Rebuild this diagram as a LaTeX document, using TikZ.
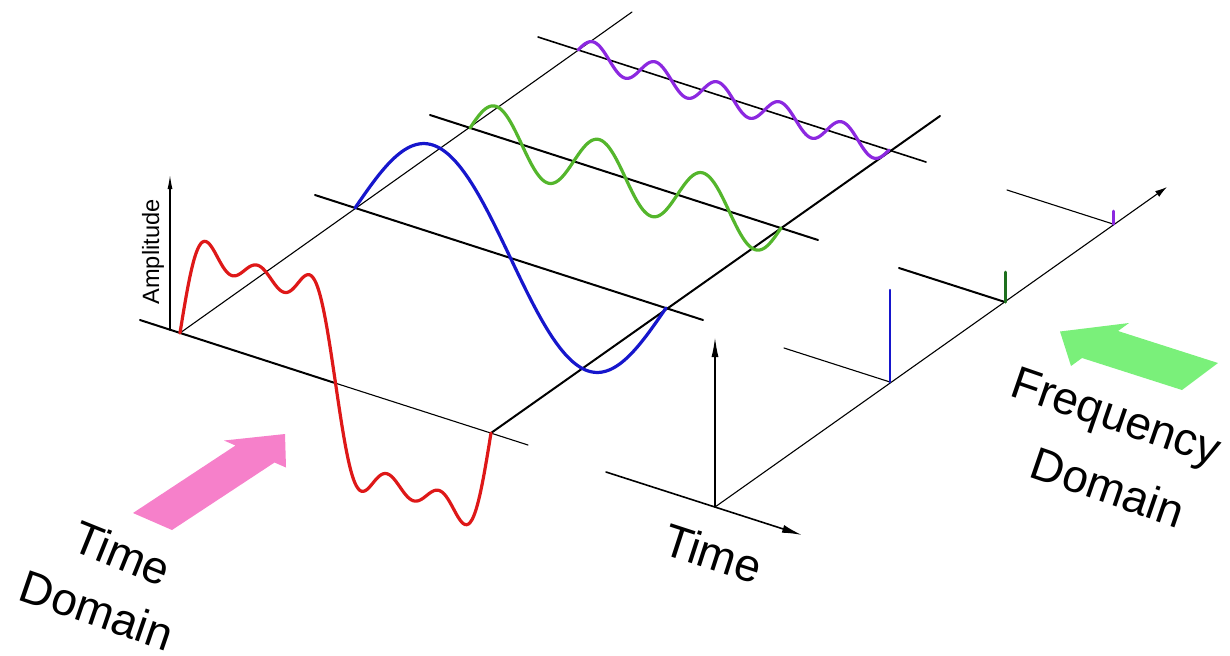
\documentclass[tikz,border=0pt]{standalone}
\usepackage{fontspec}
\setmainfont{Liberation Sans}
\usepackage{tikz}
\usetikzlibrary{arrows.meta}
\definecolor{sumred}{RGB}{222,24,24}
\definecolor{fundblue}{RGB}{22,22,204}
\definecolor{harmgreen}{RGB}{84,182,44}
\definecolor{harmpurple}{RGB}{140,40,224}
\definecolor{spikegreen}{RGB}{30,112,30}
\definecolor{arrowpink}{RGB}{246,128,202}
\definecolor{arrowgreen}{RGB}{122,240,122}

\begin{document}
\begin{tikzpicture}[x=0.5pt,y=-0.5pt,line cap=round,line join=round,
  thinline/.style={line width=0.55pt},
  tline/.style={line width=1pt},
  wave/.style={line width=1.6pt,smooth},
  lbl/.style={font=\fontsize{23}{28}\selectfont,inner sep=0pt}]
\path[use as bounding box] (0,0) rectangle (1230,655);
\coordinate (r0) at (180,333); \coordinate (r1) at (491,433);
\coordinate (b0) at (355,208); \coordinate (b1) at (666,308);
\coordinate (g0) at (470,128); \coordinate (g1) at (781,228);
\coordinate (p0) at (578,50);  \coordinate (p1) at (889,150);
\coordinate (ltop) at (632,12); \coordinate (rtop) at (940,116);
\coordinate (f0) at (715,507); \coordinate (f1) at (890,382);
\coordinate (f2) at (1005,302); \coordinate (f3) at (1113,224);
\draw[thinline] (r0) -- (ltop);
\draw[tline] (r1) -- (rtop);
\draw[tline] (140,320) -- (335,383);
\draw[thinline] (335,383) -- (528,445);
\draw[tline] (315,195) -- (703,320);
\draw[tline] (430,115) -- (818,240);
\draw[line width=0.8pt] (538,37) -- (926,162);
\draw[-{Latex[length=7pt,width=2.5pt]},thinline] (170,330) -- (170,175);
\node[lbl,font=\fontsize{11.8}{14}\selectfont,rotate=90] (amp) at (153,252) {Amplitude};
\draw[wave,sumred] plot[domain=0:360,samples=181] ({180+311*(\x/360)},{333+100*(\x/360)-107*(sin(\x)+sin(3*\x)/3+sin(5*\x)/5)});
\draw[wave,fundblue] plot[domain=0:360,samples=121] ({355+311*(\x/360)},{208+100*(\x/360)-88*sin(\x)});
\draw[wave,harmgreen] plot[domain=0:360,samples=181] ({470+311*(\x/360)},{128+100*(\x/360)-30*sin(3*\x)});
\draw[wave,harmpurple] plot[domain=0:360,samples=241] ({578+311*(\x/360)},{50+100*(\x/360)-13*sin(5*\x)});
\draw[-{Latex[length=10pt,width=3.5pt]},line width=0.8pt] (f0) -- (715,337);
\draw[-{Latex[length=10pt,width=4pt]},line width=0.8pt] (606,472) -- (802,535);
\draw[-{Latex[length=6pt,width=3.5pt]},thinline] (f0) -- (1167,187);
\draw[thinline] (784,348) -- (f1);
\draw[tline] (899,268) -- (f2);
\draw[thinline] (1007,190) -- (f3);
\draw[line width=1.2pt,fundblue] (f1) -- ++(0,-92);
\draw[line width=1.5pt,spikegreen] (f2) -- ++(0,-30);
\draw[line width=1.5pt,harmpurple] (f3) -- ++(0,-13);
\fill[arrowpink] (133,513) -- (235.5,445.5) -- (224,440.5) -- (285,434) -- (286,467.5) -- (274.5,462.5) -- (172,530) -- cycle;
\fill[arrowgreen] (1218,363) -- (1118,331) -- (1129,323) -- (1060,331.5) -- (1071,366) -- (1082,358) -- (1182,390) -- cycle;
\node[lbl,rotate=-22] (tdtime) at (122,553) {Time};
\node[lbl,rotate=-19] (tddomain) at (97,610) {Domain};
\node[lbl,rotate=-18] (taxis) at (713,553) {Time};
\node[lbl,rotate=-19] (fdfreq) at (1115,420) {Frequency};
\node[lbl,rotate=-19] (fddomain) at (1108,487) {Domain};
\end{tikzpicture}
\end{document}
